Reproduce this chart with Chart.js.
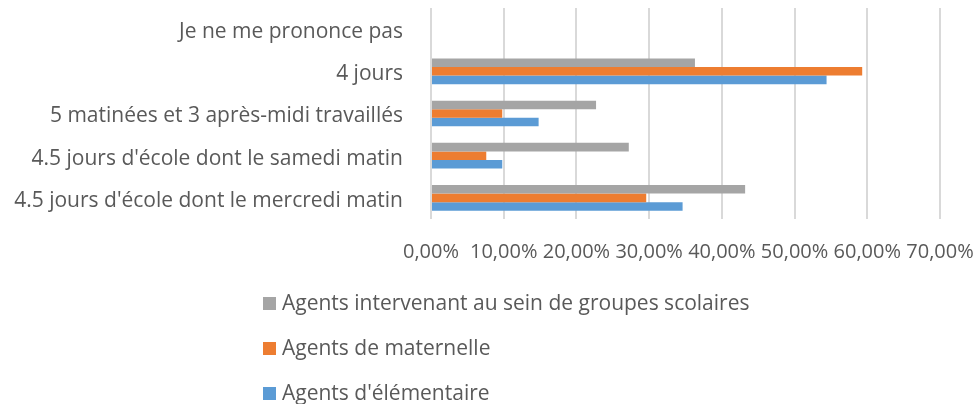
<!DOCTYPE html>
<html lang="fr">
<head>
<meta charset="utf-8">
<title>Organisation de la semaine scolaire</title>
<script src="https://cdn.jsdelivr.net/npm/chart.js@4/dist/chart.umd.min.js"></script>
<style>
  html, body { margin: 0; padding: 0; background: #fff; }
  #wrap { position: relative; width: 980px; height: 404px; }
  #legend { position: absolute; left: 263px; top: 288px; font-family: "Open Sans", sans-serif; font-size: 21px; color: #595959; }
  #legend div { height: 45px; display: flex; align-items: flex-start; }
  #legend span.box { display: inline-block; width: 13px; height: 13px; margin-top: 9px; margin-right: 6px; }
</style>
</head>
<body>
<div id="wrap">
  <canvas id="barChart" width="980" height="404"></canvas>
  <div id="legend"></div>
</div>
<script>
// catégories (de haut en bas)
const labels = [
    'Je ne me prononce pas',
    '4 jours',
    '5 matinées et 3 après-midi travaillés',
    "4.5 jours d'école dont le samedi matin",
    "4.5 jours d'école dont le mercredi matin"
];
// séries en %
const groupesScolaires = [0, 36.3, 22.7, 27.2, 43.2];
const maternelle = [0, 59.3, 9.8, 7.6, 29.6];
const elementaire = [0, 54.4, 14.8, 9.8, 34.6];
const seriesNames = ['Agents intervenant au sein de groupes scolaires', 'Agents de maternelle', "Agents d'élémentaire"];
const seriesColors = ['#a5a5a5', '#ed7d31', '#5b9bd5'];
const xTicks = [0, 10, 20, 30, 40, 50, 60, 70];

document.addEventListener("DOMContentLoaded", function () {
    const ctx = document.getElementById('barChart').getContext('2d');
    const series = [groupesScolaires, maternelle, elementaire];

    new Chart(ctx, {
        type: 'bar',
        data: {
            labels: labels,
            datasets: series.map(function (vals, i) {
                return {
                    label: seriesNames[i],
                    data: vals,
                    backgroundColor: seriesColors[i],
                    categoryPercentage: 0.61,
                    barPercentage: 1.0
                };
            })
        },
        options: {
            indexAxis: 'y',
            responsive: false,
            animation: false,
            layout: { padding: { top: 8, right: 40, left: 0, bottom: 0 } },
            plugins: {
                legend: { display: false },
                tooltip: { enabled: false }
            },
            scales: {
                x: {
                    min: 0,
                    max: 70,
                    afterBuildTicks: function (scale) {
                        scale.ticks = xTicks.map(function (v) { return { value: v }; });
                    },
                    ticks: {
                        color: '#595959',
                        font: { family: 'Open Sans', size: 20 },
                        padding: 21,
                        maxRotation: 0,
                        autoSkip: false,
                        callback: function (v) { return v.toFixed(2).replace('.', ',') + '%'; }
                    },
                    grid: { color: '#d9d9d9', lineWidth: 2, drawTicks: false },
                    border: { display: false },
                    afterFit: function (scale) {
                        scale.height = 185;
                        scale.paddingLeft = 0;
                        scale.paddingRight = 0;
                    }
                },
                y: {
                    ticks: {
                        color: '#595959',
                        font: { family: 'Open Sans', size: 21 },
                        padding: 20,
                        labelOffset: 3
                    },
                    grid: { display: false },
                    border: { display: false },
                    afterFit: function (scale) {
                        scale.width = 431;
                        scale.paddingTop = 0;
                        scale.paddingBottom = 0;
                    }
                }
            }
        }
    });

    // légende verticale comme dans l'original
    const legend = document.getElementById('legend');
    seriesNames.forEach(function (name, i) {
        const row = document.createElement('div');
        const box = document.createElement('span');
        box.className = 'box';
        box.style.background = seriesColors[i];
        row.appendChild(box);
        row.appendChild(document.createTextNode(name));
        legend.appendChild(row);
    });
});
</script>
</body>
</html>
